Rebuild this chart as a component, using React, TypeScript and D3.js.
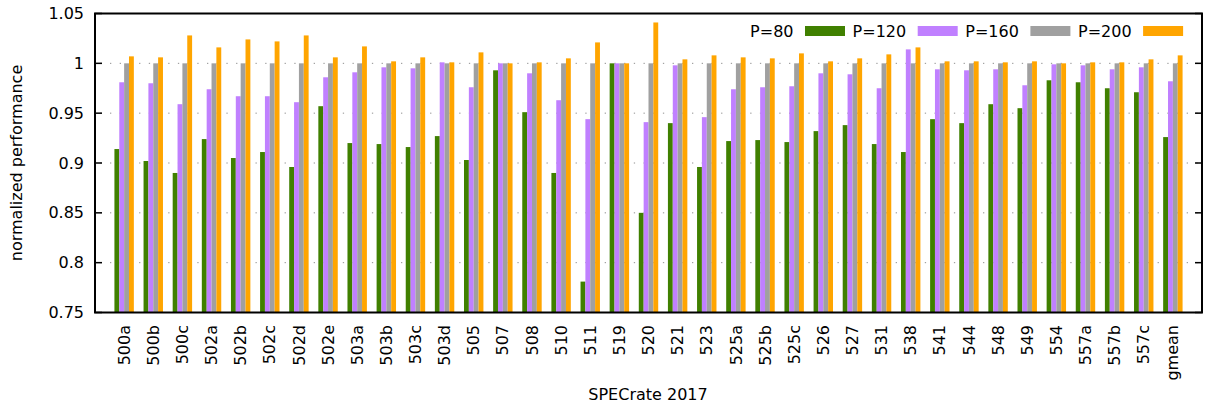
import React from "react";
import * as d3 from "d3";

const categories = [
  "500a", "500b", "500c", "502a", "502b", "502c", "502d", "502e", "503a", "503b",
  "503c", "503d", "505", "507", "508", "510", "511", "519", "520", "521",
  "523", "525a", "525b", "525c", "526", "527", "531", "538", "541", "544",
  "548", "549", "554", "557a", "557b", "557c", "gmean",
];

const p80 = [
  0.914, 0.902, 0.890, 0.924, 0.905, 0.911, 0.896, 0.957, 0.920, 0.919,
  0.916, 0.927, 0.903, 0.993, 0.951, 0.890, 0.781, 1.000, 0.850, 0.940,
  0.896, 0.922, 0.923, 0.921, 0.932, 0.938, 0.919, 0.911, 0.944, 0.940,
  0.959, 0.955, 0.983, 0.981, 0.975, 0.971, 0.926,
];
const p120 = [
  0.981, 0.980, 0.959, 0.974, 0.967, 0.967, 0.961, 0.986, 0.991, 0.996,
  0.995, 1.001, 0.976, 1.000, 0.990, 0.963, 0.944, 1.000, 0.941, 0.998,
  0.946, 0.974, 0.976, 0.977, 0.990, 0.989, 0.975, 1.014, 0.994, 0.993,
  0.994, 0.978, 0.999, 0.998, 0.994, 0.996, 0.982,
];
const p160 = [
  1, 1, 1, 1, 1, 1, 1, 1, 1, 1,
  1, 1, 1, 1, 1, 1, 1, 1, 1, 1,
  1, 1, 1, 1, 1, 1, 1, 1, 1, 1,
  1, 1, 1, 1, 1, 1, 1,
];
const p200 = [
  1.007, 1.006, 1.028, 1.016, 1.024, 1.022, 1.028, 1.006, 1.017, 1.002,
  1.006, 1.001, 1.011, 1.000, 1.001, 1.005, 1.021, 1.000, 1.041, 1.004,
  1.008, 1.006, 1.005, 1.010, 1.002, 1.005, 1.009, 1.016, 1.002, 1.002,
  1.001, 1.002, 1.000, 1.001, 1.001, 1.004, 1.008,
];

const seriesNames = ["P=80", "P=120", "P=160", "P=200"];
const seriesColors = ["#408000", "#c080ff", "#a0a0a0", "#ffa500"];
const seriesValues = [p80, p120, p160, p200];
const yTicks = [0.75, 0.8, 0.85, 0.9, 0.95, 1, 1.05];

const W = 1205;
const H = 407;
const left = 95;
const right = 1202;
const top = 13.5;
const bottom = 312.5;
const FONT = "'DejaVu Sans', sans-serif";
const FS = 16;

export default function App() {
  const x = d3.scaleLinear().domain([-1, categories.length]).range([left, right]);
  const y = d3.scaleLinear().domain([0.75, 1.05]).range([bottom, top]);
  const step = x(1) - x(0);
  const bw = step / 6;
  const fmt = (v: number) => (v === 1 ? "1" : d3.format("")(+v.toFixed(2)));

  return (
    <svg
      width={W}
      height={H}
      style={{ position: "absolute", left: 0, top: 0, background: "#fff" }}
      fontFamily={FONT}
    >
      <rect x={0} y={0} width={W} height={H} fill="#fff" />
      {/* grid */}
      {yTicks
        .filter((t) => t > 0.76 && t < 1.04)
        .map((t) => (
          <line
            key={"g" + t}
            x1={left}
            x2={right}
            y1={y(t)}
            y2={y(t)}
            stroke="#909090"
            strokeWidth={1}
            strokeDasharray="1.3 8.4"
            strokeDashoffset={4.4}
          />
        ))}
      {/* bars */}
      {seriesValues.map((vals, j) =>
        vals.map((v, i) => {
          const x0 = x(i) + (j - 2) * bw;
          const yv = y(v);
          return (
            <rect
              key={`b${j}-${i}`}
              x={x0}
              y={Math.min(yv, bottom)}
              width={bw}
              height={Math.abs(bottom - yv)}
              fill={seriesColors[j]}
            />
          );
        })
      )}
      {/* ticks */}
      {yTicks.map((t) => (
        <g key={"t" + t}>
          <line x1={left} x2={left + 7} y1={y(t)} y2={y(t)} stroke="#000" strokeWidth={1.5} />
          <line x1={right - 7} x2={right} y1={y(t)} y2={y(t)} stroke="#000" strokeWidth={1.5} />
          <text
            x={84}
            y={y(t)}
            dy="0.35em"
            textAnchor="end"
            fontSize={FS}
            fill="#000"
          >
            {fmt(t)}
          </text>
        </g>
      ))}
      {/* frame */}
      <rect
        x={left}
        y={top}
        width={right - left}
        height={bottom - top}
        fill="none"
        stroke="#000"
        strokeWidth={2}
      />
      {/* x labels */}
      {categories.map((c, i) => (
        <text
          key={"x" + c}
          transform={`translate(${x(i)},${325}) rotate(-90)`}
          textAnchor="end"
          dy="0.35em"
          fontSize={FS}
          fill="#000"
        >
          {c}
        </text>
      ))}
      {/* axis titles */}
      <text x={648} y={400} textAnchor="middle" fontSize={FS} fill="#000">
        SPECrate 2017
      </text>
      <text
        transform={`translate(16,${163}) rotate(-90)`}
        textAnchor="middle"
        dy="0.35em"
        fontSize={FS}
        fill="#000"
      >
        normalized performance
      </text>
      {/* legend */}
      {seriesNames.map((n, j) => {
        const sx = 805 + j * 112.7;
        return (
          <g key={"l" + n}>
            <text x={sx - 11.5} y={37} textAnchor="end" fontSize={FS} fill="#000">
              {n}
            </text>
            <rect x={sx} y={26} width={40} height={10} fill={seriesColors[j]} />
          </g>
        );
      })}
    </svg>
  );
}
